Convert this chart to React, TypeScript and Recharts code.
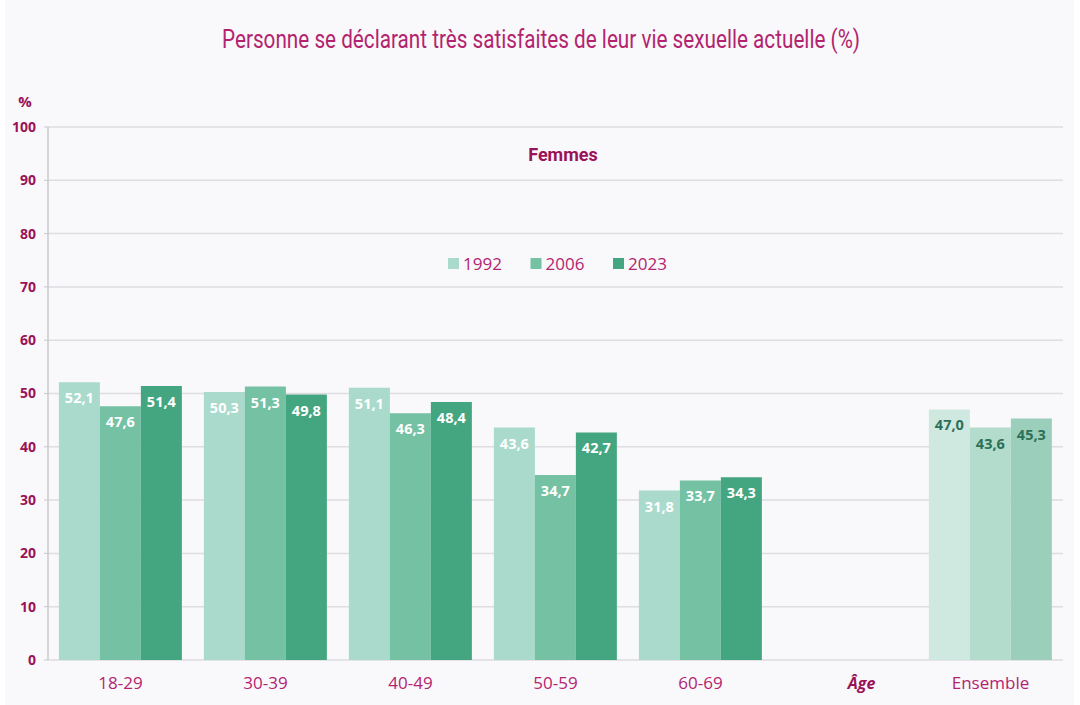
import React from "react";
import { BarChart, Bar, XAxis, YAxis, CartesianGrid, Cell, LabelList } from "recharts";

// Tranches d'âge + colonne vide "Âge" + Ensemble
const categories = ["18-29", "30-39", "40-49", "50-59", "60-69", "Âge", "Ensemble"];
const values1992 = [52.1, 50.3, 51.1, 43.6, 31.8, null, 47.0];
const values2006 = [47.6, 51.3, 46.3, 34.7, 33.7, null, 43.6];
const values2023 = [51.4, 49.8, 48.4, 42.7, 34.3, null, 45.3];
const yTicks = [0, 10, 20, 30, 40, 50, 60, 70, 80, 90, 100];

const data = categories.map((cat, i) => ({
  cat,
  y1992: values1992[i],
  y2006: values2006[i],
  y2023: values2023[i],
}));

const MAGENTA = "#b3246f";
const DARK_MAGENTA = "#9a1257";

const series = [
  { key: "y1992", name: "1992", color: "#a9dacb", light: "#cfe8e0" },
  { key: "y2006", name: "2006", color: "#74c1a4", light: "#b3dccd" },
  { key: "y2023", name: "2023", color: "#44a680", light: "#9bcfbb" },
];

const fmt = (v: number) => v.toFixed(1).replace(".", ",");

const XTick = (props: any) => {
  const { x, y, payload } = props;
  const isAge = payload.value === "Âge";
  return (
    <text
      x={isAge ? x + 16 : x}
      y={y}
      dy={15}
      textAnchor="middle"
      fill={isAge ? DARK_MAGENTA : MAGENTA}
      fontSize={isAge ? 16 : 17}
      fontWeight={isAge ? 700 : 400}
      fontStyle={isAge ? "italic" : "normal"}
      fontFamily="'Open Sans', sans-serif"
    >
      {payload.value}
    </text>
  );
};

// la valeur arrive sous forme [valeur, estEnsemble]
const BarLabel = (props: any) => {
  const { x, y, width, value } = props;
  if (value == null) return null;
  const [v, ens] = String(value).split("|");
  if (v === "" || v === "null") return null;
  return (
    <text
      x={x + width / 2}
      y={y + 21}
      textAnchor="middle"
      fill={ens === "1" ? "#2b7057" : "#ffffff"}
      fontSize={14.5}
      fontWeight={700}
      fontFamily="'Open Sans', sans-serif"
    >
      {fmt(Number(v))}
    </text>
  );
};

export default function App() {
  return (
    <div style={{ position: "fixed", left: 0, top: 0, width: 1080, height: 705, background: "#ffffff" }}>
      <div style={{ position: "absolute", left: 5, top: 0, width: 1069, height: 705, background: "#f9f8fb" }} />
      <svg width={1080} height={705} style={{ position: "absolute", left: 0, top: 0 }}>
        <text
          x={541}
          y={48}
          textAnchor="middle"
          fill={MAGENTA}
          fontSize={26}
          fontFamily="Roboto, sans-serif"
          textLength={638}
          lengthAdjust="spacingAndGlyphs"
        >
          Personne se déclarant très satisfaites de leur vie sexuelle actuelle (%)
        </text>
        <text x={25} y={107} textAnchor="middle" fill={DARK_MAGENTA} fontSize={15} fontWeight={700} fontFamily="'Open Sans', sans-serif">
          %
        </text>
        <text x={563} y={161} textAnchor="middle" fill={DARK_MAGENTA} fontSize={18} fontWeight={700} fontFamily="Roboto, sans-serif">
          Femmes
        </text>
        {series.map((s, i) => (
          <g key={s.key}>
            <rect x={448 + i * 82.5} y={258} width={11} height={11} fill={s.color} />
            <text x={463 + i * 82.5} y={270} fill={MAGENTA} fontSize={17} fontFamily="'Open Sans', sans-serif">
              {s.name}
            </text>
          </g>
        ))}
      </svg>
      <div style={{ position: "absolute", left: 0, top: 0 }}>
        <BarChart
          width={1080}
          height={705}
          data={data}
          margin={{ top: 127, right: 17, bottom: 0, left: 8 }}
          barCategoryGap="7.5%"
          barGap={0}
        >
          <CartesianGrid vertical={false} stroke="#dedde0" strokeWidth={1.5} />
          <XAxis
            dataKey="cat"
            height={45}
            tickLine={false}
            axisLine={false}
            tickSize={0}
            tickMargin={14}
            interval={0}
            tick={<XTick />}
          />
          <YAxis
            width={40}
            domain={[0, 100]}
            ticks={yTicks}
            interval={0}
            tickSize={4}
            tickMargin={8}
            axisLine={{ stroke: "#c9c8cc", strokeWidth: 1.5 }}
            tickLine={{ stroke: "#c9c8cc" }}
            tick={{ fill: DARK_MAGENTA, fontSize: 14, fontWeight: 700, fontFamily: "'Open Sans', sans-serif" }}
          />
          {series.map((s) => (
            <Bar key={s.key} dataKey={s.key} name={s.name} fill={s.color} isAnimationActive={false}>
              {data.map((d, i) => (
                <Cell key={i} fill={d.cat === "Ensemble" ? s.light : s.color} />
              ))}
              <LabelList
                dataKey={(d: any) => `${d[s.key]}|${d.cat === "Ensemble" ? 1 : 0}`}
                content={<BarLabel />}
              />
            </Bar>
          ))}
        </BarChart>
      </div>
    </div>
  );
}
